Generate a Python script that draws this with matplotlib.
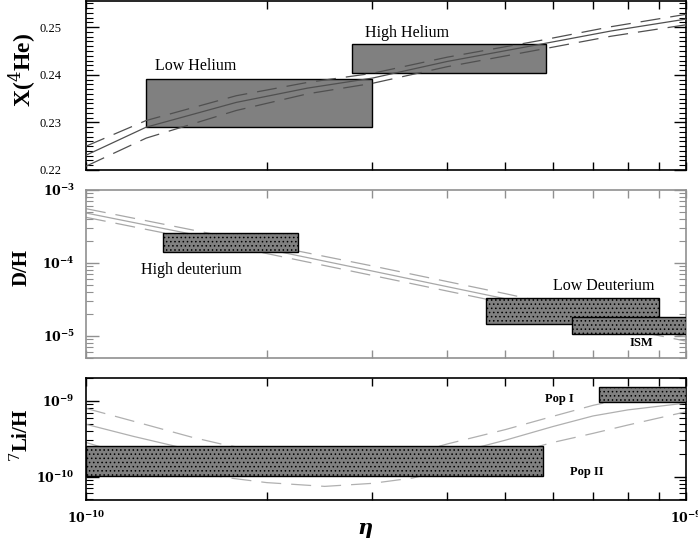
import numpy as np
import matplotlib
matplotlib.use('Agg')
import matplotlib.pyplot as plt
from matplotlib.patches import Rectangle
from matplotlib.ticker import FixedLocator, NullFormatter, FuncFormatter, MultipleLocator

plt.rcParams['font.family'] = ['Liberation Serif', 'DejaVu Serif']
plt.rcParams['mathtext.fontset'] = 'dejavuserif'
plt.rcParams['hatch.linewidth'] = 0.6

# ---------------- data ----------------
# Helium-4 mass fraction predictions
eta_he = np.array([1.0, 1.26, 1.78, 2.34, 3.0, 4.0, 5.71, 7.5, 10.0]) * 1e-10
he_mid = [0.2231, 0.2290, 0.2342, 0.2372, 0.2393, 0.2428, 0.2464, 0.2492, 0.2517]
he_up = [0.2250, 0.2304, 0.2356, 0.2384, 0.2403, 0.2437, 0.2472, 0.2501, 0.2527]
he_lo = [0.2208, 0.2267, 0.2325, 0.2360, 0.2382, 0.2417, 0.2453, 0.2481, 0.2505]
he_boxes = {  # name: (eta_lo, eta_hi, y_lo, y_hi)
    'Low Helium': (1.26e-10, 3.0e-10, 0.2290, 0.2392),
    'High Helium': (2.78e-10, 5.84e-10, 0.2403, 0.2464),
}

# Deuterium predictions (log10 D/H)
eta_d = np.array([1.0, 2.0, 3.0, 5.0, 7.0, 10.0]) * 1e-10
d_up = 10 ** np.array([-3.256, -3.75, -4.04, -4.42, -4.68, -4.94])
d_mid = 10 ** np.array([-3.315, -3.81, -4.11, -4.49, -4.75, -5.01])
d_lo = 10 ** np.array([-3.374, -3.87, -4.17, -4.55, -4.81, -5.07])
d_boxes = {
    'High deuterium': (1.345e-10, 2.26e-10, 1.43e-4, 2.6e-4),
    'Low Deuterium': (4.64e-10, 9.02e-10, 1.45e-5, 3.28e-5),
    'ISM': (6.46e-10, 1.0e-9, 1.05e-5, 1.84e-5),
}

# Lithium-7 predictions (log10 Li/H)
eta_li = np.array([1.0, 1.2, 1.5, 1.7, 2.0, 2.5, 3.0, 3.5, 4.0, 5.0, 6.0, 7.0, 8.0, 10.0]) * 1e-10
li_up = 10 ** np.array([-9.10, -9.27, -9.48, -9.58, -9.68, -9.76, -9.76, -9.70, -9.57,
                        -9.38, -9.205, -9.06, -8.96, -8.84])
li_mid = 10 ** np.array([-9.31, -9.47, -9.65, -9.73, -9.81, -9.88, -9.87, -9.80, -9.72,
                         -9.52, -9.34, -9.20, -9.12, -9.03])
li_lo = 10 ** np.array([-9.55, -9.74, -9.93, -10.01, -10.08, -10.13, -10.09, -10.02, -9.91,
                        -9.72, -9.55, -9.43, -9.32, -9.145])
li_boxes = {
    'Pop II': (1.0e-10, 5.78e-10, 1.02e-10, 2.56e-10),
    'Pop I': (7.17e-10, 1.0e-9, 9.5e-10, 1.5e-9),
}

# ---------------- figure ----------------
W, H = 698, 544
fig = plt.figure(figsize=(W / 100, H / 100), dpi=100)

def axes_px(x0, y0, x1, y1):
    return fig.add_axes([x0 / W, 1 - y1 / H, (x1 - x0) / W, (y1 - y0) / H])

ax1 = axes_px(86, 1, 686, 170)
ax2 = axes_px(86, 190, 686, 358)
ax3 = axes_px(86, 378, 686, 500)

dash = (0, (16, 8))
minor_x = [k * 1e-10 for k in range(2, 10)]

def common_x(ax, edgecolor='black'):
    ax.set_xscale('log')
    ax.set_xlim(1e-10, 1e-9)
    ax.xaxis.set_major_locator(FixedLocator([1e-10, 1e-9]))
    ax.xaxis.set_minor_locator(FixedLocator(minor_x))
    ax.xaxis.set_major_formatter(NullFormatter())
    ax.xaxis.set_minor_formatter(NullFormatter())
    ax.tick_params(axis='x', which='both', direction='in', top=True, bottom=True,
                   length=6, width=1, color=edgecolor)
    ax.tick_params(axis='y', which='major', direction='in', left=True, right=True,
                   length=9, width=1, color=edgecolor)
    ax.tick_params(axis='y', which='minor', direction='in', left=True, right=True,
                   length=5, width=0.8, color=edgecolor)
    for s in ax.spines.values():
        s.set_color(edgecolor)
        s.set_linewidth(1.2)

log_fmt = FuncFormatter(lambda v, p: r'$\mathbf{10^{%d}}$' % round(np.log10(v)))

# ---- Helium panel ----
common_x(ax1)
ax1.set_ylim(0.22, 0.2555)
ax1.yaxis.set_major_locator(MultipleLocator(0.01))
ax1.yaxis.set_minor_locator(MultipleLocator(0.001))
ax1.yaxis.set_major_formatter(FuncFormatter(lambda v, p: f'{v:.2f}'))
ax1.tick_params(axis='y', labelsize=9, pad=18)
for name, (x0, x1, y0, y1) in he_boxes.items():
    ax1.add_patch(Rectangle((x0, y0), x1 - x0, y1 - y0, facecolor='#808080',
                            edgecolor='black', linewidth=1.0, zorder=2))
ax1.plot(eta_he, he_up, color='#505050', lw=0.9, ls=dash, zorder=3)
ax1.plot(eta_he, he_mid, color='#505050', lw=0.9, zorder=3)
ax1.plot(eta_he, he_lo, color='#505050', lw=0.9, ls=dash, zorder=3)
ax1.text(1.525e-10, 0.2419, 'Low Helium', ha='center', va='center', fontsize=11.5)
ax1.text(3.43e-10, 0.2487, 'High Helium', ha='center', va='center', fontsize=11.5)

# ---- Deuterium panel ----
common_x(ax2, edgecolor='#909090')
ax2.set_yscale('log')
ax2.set_ylim(5e-6, 1e-3)
ax2.yaxis.set_major_locator(FixedLocator([1e-5, 1e-4, 1e-3]))
ax2.yaxis.set_minor_locator(FixedLocator([k * 10.0 ** e for e in (-6, -5, -4) for k in range(2, 10)]))
ax2.yaxis.set_minor_formatter(NullFormatter())
ax2.yaxis.set_major_formatter(log_fmt)
ax2.tick_params(axis='y', which='major', labelsize=9, labelcolor='black', pad=8)
ax2.plot(eta_d, d_up, color='#a8a8a8', lw=0.9, ls=dash, zorder=2)
ax2.plot(eta_d, d_mid, color='#a8a8a8', lw=0.9, zorder=2)
ax2.plot(eta_d, d_lo, color='#a8a8a8', lw=0.9, ls=dash, zorder=2)
for name, (x0, x1, y0, y1) in d_boxes.items():
    ax2.add_patch(Rectangle((x0, y0), x1 - x0, y1 - y0, facecolor='#808080',
                            edgecolor='black', linewidth=1.0, hatch='....', zorder=3))
ax2.text(1.5e-10, 8.0e-5, 'High deuterium', ha='center', va='center', fontsize=11.5)
ax2.text(7.29e-10, 4.84e-5, 'Low Deuterium', ha='center', va='center', fontsize=11.5)
ax2.text(8.41e-10, 8.1e-6, 'ISM', ha='center', va='center', fontsize=9, fontweight='bold')

# ---- Lithium panel ----
common_x(ax3)
ax3.set_yscale('log')
ax3.set_ylim(4.9e-11, 2e-9)
ax3.yaxis.set_major_locator(FixedLocator([1e-10, 1e-9]))
ax3.yaxis.set_minor_locator(FixedLocator([k * 10.0 ** e for e in (-11, -10, -9) for k in range(2, 10)]))
ax3.yaxis.set_minor_formatter(NullFormatter())
ax3.yaxis.set_major_formatter(log_fmt)
ax3.tick_params(axis='y', which='major', labelsize=9, pad=8)
ax3.plot(eta_li, li_up, color='#b0b0b0', lw=0.9, ls=dash, zorder=2)
ax3.plot(eta_li, li_mid, color='#b0b0b0', lw=0.9, zorder=2)
ax3.plot(eta_li, li_lo, color='#b0b0b0', lw=0.9, ls=dash, zorder=2)
for name, (x0, x1, y0, y1) in li_boxes.items():
    ax3.add_patch(Rectangle((x0, y0), x1 - x0, y1 - y0, facecolor='#808080',
                            edgecolor='black', linewidth=1.0, hatch='....', zorder=3))
ax3.text(6.14e-10, 1.05e-9, 'Pop I', ha='center', va='center', fontsize=9, fontweight='bold')
ax3.text(6.83e-10, 1.15e-10, 'Pop II', ha='center', va='center', fontsize=9, fontweight='bold')

ax3.xaxis.set_major_formatter(log_fmt)
ax3.tick_params(axis='x', which='major', labelsize=9, pad=7)

# axis labels
fig.text(22 / W, 1 - 70 / H, 'X($^{4}$He)', rotation=90, ha='center', va='center',
         fontsize=17, fontweight='bold')
fig.text(22 / W, 1 - 268 / H, 'D/H', rotation=90, ha='center', va='center',
         fontsize=15, fontweight='bold')
fig.text(22 / W, 1 - 435 / H, '$^{7}$Li/H', rotation=90, ha='center', va='center',
         fontsize=15, fontweight='bold')
fig.text(365 / W, 1 - 528 / H, 'η', ha='center', va='center', fontsize=15,
         fontweight='bold', style='italic', family='DejaVu Serif')

fig.savefig('out.png', dpi=100)
